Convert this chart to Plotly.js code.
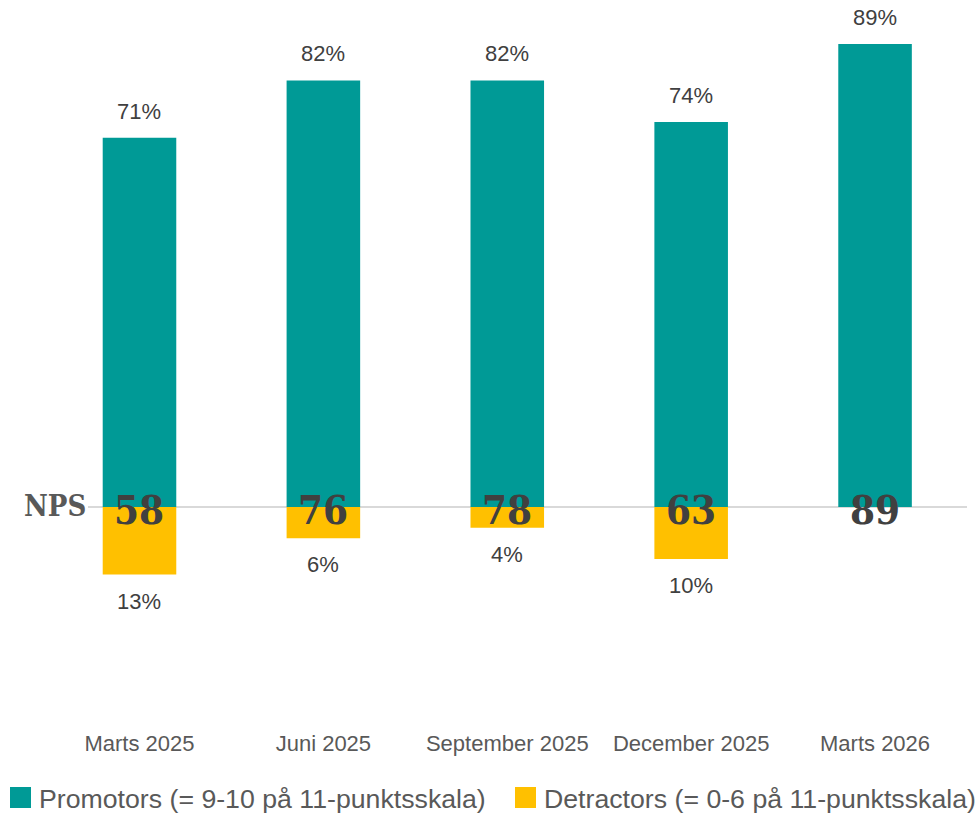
<!DOCTYPE html>
<html>
<head>
<meta charset="utf-8">
<script src="https://cdn.plot.ly/plotly-3.0.1.min.js"></script>
<style>html,body{margin:0;padding:0;background:#fff;}#chart{width:979px;height:815px;}</style>
</head>
<body>
<div id="chart"></div>
<script>
const categories = ["Marts 2025", "Juni 2025", "September 2025", "December 2025", "Marts 2026"];
const promoters = [71, 82, 82, 74, 89];
const detractors = [13, 6, 4, 10, 0];
const npsScores = [58, 76, 78, 63, 89];
const seriesNames = ["Promotors (= 9-10 på 11-punktsskala)", "Detractors (= 0-6 på 11-punktsskala)"];

const TEAL = "#009A96";
const YELLOW = "#FFC000";
const LABEL = "#404040";
const AXIS_TXT = "#595959";

const W = 979, H = 815;
const M = {l: 88, r: 12, t: 5, b: 87};
const PW = W - M.l - M.r, PH = H - M.t - M.b;
const px2x = p => (p - M.l) / PW;
const py2y = p => (H - M.b - p) / PH;

const traces = [
  {type: "bar", x: categories, y: promoters, marker: {color: TEAL}, name: seriesNames[0], hoverinfo: "x+y"},
  {type: "bar", x: categories, y: detractors.map(v => -v), marker: {color: YELLOW}, name: seriesNames[1], hoverinfo: "x+y"}
];

const annotations = [];
categories.forEach((c, i) => {
  annotations.push({x: c, y: promoters[i], xref: "x", yref: "y", text: promoters[i] + "%", showarrow: false,
    yanchor: "bottom", yshift: 12, font: {family: "Liberation Sans, Arial, sans-serif", size: 22, color: LABEL}});
  if (detractors[i] > 0) {
    annotations.push({x: c, y: -detractors[i], xref: "x", yref: "y", text: detractors[i] + "%", showarrow: false,
      yanchor: "top", yshift: -12, font: {family: "Liberation Sans, Arial, sans-serif", size: 22, color: LABEL}});
  }
  annotations.push({x: c, y: 0, xref: "x", yref: "y", text: "<b>" + npsScores[i] + "</b>", showarrow: false,
    yanchor: "middle", yshift: -3, font: {family: "DejaVu Serif Condensed, DejaVu Serif, serif", size: 40, color: LABEL}});
});
annotations.push({x: 0, y: 0, xref: "paper", yref: "y", text: "<b>NPS</b>", showarrow: false,
  xanchor: "right", yanchor: "middle", yshift: 1, font: {family: "DejaVu Serif Condensed, DejaVu Serif, serif", size: 29, color: AXIS_TXT}});

// Legend drawn as shapes + text (the native legend would wrap at this width)
const legendItems = [
  {sx: 10, tx: 37, color: TEAL, name: seriesNames[0]},
  {sx: 515, tx: 542, color: YELLOW, name: seriesNames[1]}
];
const shapes = [];
legendItems.forEach(it => {
  shapes.push({type: "rect", xref: "paper", yref: "paper", x0: px2x(it.sx), x1: px2x(it.sx + 21),
    y0: py2y(808), y1: py2y(787), fillcolor: it.color, line: {width: 0}});
  annotations.push({xref: "paper", yref: "paper", x: px2x(it.tx), y: py2y(799), xanchor: "left", yanchor: "middle",
    text: it.name, showarrow: false, font: {family: "Liberation Sans, Arial, sans-serif", size: 26.7, color: AXIS_TXT}});
});

const layout = {
  width: W, height: H,
  margin: M,
  paper_bgcolor: "#fff", plot_bgcolor: "#fff",
  barmode: "relative", bargap: 0.6,
  font: {family: "Liberation Sans, Arial, sans-serif", color: AXIS_TXT},
  xaxis: {type: "category", range: [-0.28, 4.5], showgrid: false, showline: false, ticks: "",
    tickfont: {size: 22, color: AXIS_TXT}, fixedrange: true},
  yaxis: {range: [-42.5, 96.5], showgrid: false, showticklabels: false, zeroline: true,
    zerolinecolor: "#d9d9d9", zerolinewidth: 2, fixedrange: true},
  showlegend: false,
  shapes: shapes,
  annotations: annotations
};

Plotly.newPlot("chart", traces, layout, {displayModeBar: false});
</script>
</body>
</html>
